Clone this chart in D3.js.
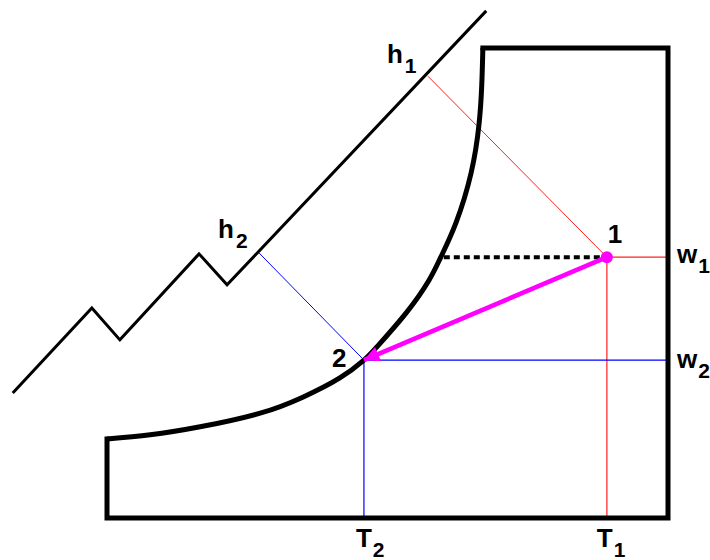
<!DOCTYPE html>
<html>
<head>
<meta charset="utf-8">
<script src="https://cdn.jsdelivr.net/npm/d3@7"></script>
<style>
  body { margin: 0; background: #fff; }
  svg text { font-family: "Liberation Sans", Arial, sans-serif; font-weight: bold; fill: #000; }
</style>
</head>
<body>
<svg id="chart" width="710" height="560"></svg>
<script>
// schematic psychrometric chart, values in chart units (T: 0..100, w: 0..100)
const satT = [67.0, 66.8, 66.3, 64.9, 62.2, 59.5, 57.4, 53.3, 48.1, 45.8, 41.5, 34.9, 27.3, 16.6, 7.7, 0];
const satW = [100, 92.1, 83.6, 73.4, 62.8, 55.5, 50.6, 43.6, 36.4, 33.6, 29.8, 25.7, 22.3, 19.4, 17.7, 16.8];

// enthalpy axis (with break zigzag)
const hAxisT = [-16.8, -2.7, 2.3, 16.4, 21.4, 67.6];
const hAxisW = [26.6, 44.7, 37.9, 56.2, 49.6, 107.9];

// states
const stateNames = ["1", "2"];
const stateT = [89.1, 45.8];
const stateW = [55.5, 33.6];
const stateH = [[57.2, 94.0], [27.1, 56.4]]; // foot on enthalpy axis
const wSatAtW1 = 59.5;

const svg = d3.select("#chart");

const x = d3.scaleLinear().domain([0, 100]).range([107, 668]);
const y = d3.scaleLinear().domain([0, 100]).range([518, 48]);

const g = svg.append("g");

// thin guide lines
const red = "#ff2020", blue = "#0000ff";
// state 1
g.append("line").attr("x1", x(stateH[0][0])).attr("y1", y(stateH[0][1]))
  .attr("x2", x(stateT[0])).attr("y2", y(stateW[0]))
  .attr("stroke", red).attr("stroke-width", 1);
g.append("line").attr("x1", x(stateT[0])).attr("y1", y(stateW[0]))
  .attr("x2", x(100)).attr("y2", y(stateW[0]))
  .attr("stroke", red).attr("stroke-width", 1.2);
g.append("line").attr("x1", x(stateT[0])).attr("y1", y(stateW[0]))
  .attr("x2", x(stateT[0])).attr("y2", y(0))
  .attr("stroke", "#ff4b4b").attr("stroke-width", 1.5);
// state 2
g.append("line").attr("x1", x(stateH[1][0])).attr("y1", y(stateH[1][1]))
  .attr("x2", x(stateT[1])).attr("y2", y(stateW[1]))
  .attr("stroke", blue).attr("stroke-width", 1);
g.append("line").attr("x1", x(stateT[1])).attr("y1", y(stateW[1]))
  .attr("x2", x(100)).attr("y2", y(stateW[1]))
  .attr("stroke", blue).attr("stroke-width", 1.2);
g.append("line").attr("x1", x(stateT[1])).attr("y1", y(stateW[1]))
  .attr("x2", x(stateT[1])).attr("y2", y(0))
  .attr("stroke", blue).attr("stroke-width", 1.2);

// dashed line from saturation to state 1
g.append("line").attr("x1", x(wSatAtW1) + 3).attr("y1", y(stateW[0]))
  .attr("x2", x(stateT[0]) - 6).attr("y2", y(stateW[0]))
  .attr("stroke", "#000").attr("stroke-width", 4)
  .attr("stroke-dasharray", "6,4");

// enthalpy axis
const hLine = d3.line().x(d => x(d[0])).y(d => y(d[1]));
g.append("path")
  .attr("d", hLine(hAxisT.map((t, i) => [t, hAxisW[i]])))
  .attr("fill", "none").attr("stroke", "#000").attr("stroke-width", 3)
  .attr("stroke-linejoin", "miter");

// chart frame
const frame = [[satT[0], 100], [100, 100], [100, 0], [0, 0], [0, satW[satW.length - 1]]];
g.append("path")
  .attr("d", hLine(frame))
  .attr("fill", "none").attr("stroke", "#000").attr("stroke-width", 5)
  .attr("stroke-linejoin", "miter").attr("stroke-linecap", "square");

// saturation curve
const satLine = d3.line().x(d => x(d[0])).y(d => y(d[1])).curve(d3.curveNatural);
g.append("path")
  .attr("d", satLine(satT.map((t, i) => [t, satW[i]])))
  .attr("fill", "none").attr("stroke", "#000").attr("stroke-width", 5);

// process line 1 -> 2
svg.append("defs").append("marker")
  .attr("id", "arrow")
  .attr("viewBox", "0 0 10 10")
  .attr("refX", 10).attr("refY", 5)
  .attr("markerWidth", 4).attr("markerHeight", 3.4)
  .attr("markerUnits", "strokeWidth")
  .attr("orient", "auto")
  .append("path").attr("d", "M0,0L10,5L0,10z").attr("fill", "#ff00ff");

g.append("line")
  .attr("x1", x(stateT[0])).attr("y1", y(stateW[0]))
  .attr("x2", x(stateT[1])).attr("y2", y(stateW[1]))
  .attr("stroke", "#ff00ff").attr("stroke-width", 4.5)
  .attr("marker-end", "url(#arrow)");
g.append("circle")
  .attr("cx", x(stateT[0])).attr("cy", y(stateW[0])).attr("r", 6)
  .attr("fill", "#ff00ff");

// labels
function label(px, py, main, sub, subDx) {
  const t = svg.append("text").attr("x", px).attr("y", py).style("font-size", "26px");
  t.append("tspan").text(main);
  if (sub) t.append("tspan").attr("dx", subDx).attr("dy", 10).style("font-size", "21px").text(sub);
}

label(x(stateH[0][0]) - 41, y(stateH[0][1]) - 13, "h", "1", 2);
label(x(stateH[1][0]) - 41, y(stateH[1][1]) - 15, "h", "2", 2);
label(x(stateT[0]) + 1, y(stateW[0]) - 14, stateNames[0]);
label(x(stateT[1]) - 32, y(stateW[1]) + 7, stateNames[1]);
label(x(100) + 9, y(stateW[0]) + 6, "w", "1", 1);
label(x(100) + 9, y(stateW[1]) + 8, "w", "2", 1);
label(x(stateT[0]) - 10, y(0) + 29, "T", "1", 1);
label(x(stateT[1]) - 8, y(0) + 29, "T", "2", 1);
</script>
</body>
</html>
